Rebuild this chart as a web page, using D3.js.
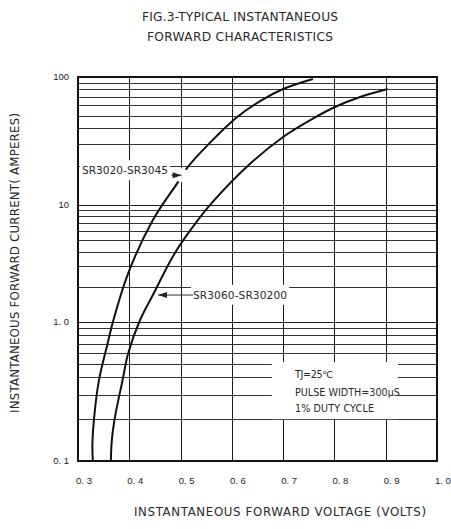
<!DOCTYPE html>
<meta charset="utf-8">
<style>
  body { margin: 0; background: #fff; }
  .title, .axis-title, .note, .curve-label { font-family: "DejaVu Sans", sans-serif; fill: #2a2a2a; }
  .title { font-size: 12.2px; text-anchor: middle; }
  .axis-title { font-size: 11.8px; text-anchor: middle; }
  .tick-label { font-family: "Liberation Sans", Arial, sans-serif; font-size: 9.5px; fill: #222; }
  .grid line { stroke: #1a1a1a; stroke-width: 1; shape-rendering: crispEdges; }
  .grid line.minor { stroke: #333; }
  .frame { fill: none; stroke: #111; stroke-width: 1.2; shape-rendering: crispEdges; }
  .curve { fill: none; stroke: #111; stroke-width: 2; }
  .curve-label { font-size: 10.6px; }
  .note { font-size: 9.6px; }
  .arrow { stroke: #333; stroke-width: 1; }
</style>
<body>
<div id="vis"></div>
<script src="https://cdn.jsdelivr.net/npm/d3@7"></script>
<script>

// voltage (V) / current (A)
const lowVfV = [0.329, 0.328, 0.331, 0.341, 0.357, 0.368, 0.398, 0.446, 0.495, 0.514, 0.608, 0.655, 0.700, 0.758];
const lowVfI = [0.1, 0.126, 0.197, 0.383, 0.684, 1.0, 2.62, 7.45, 15.1, 19.8, 47.8, 64.9, 80.6, 96.5];
const highVfV = [0.364, 0.366, 0.371, 0.387, 0.398, 0.421, 0.446, 0.489, 0.534, 0.561, 0.635, 0.700, 0.760, 0.801, 0.850, 0.904];
const highVfI = [0.1, 0.142, 0.197, 0.383, 0.598, 1.04, 1.70, 3.89, 7.45, 10.4, 20.9, 34.0, 47.8, 58.3, 69.8, 80.6];

const xTicks = [0.3, 0.4, 0.5, 0.6, 0.7, 0.8, 0.9, 1.0];
const xTickLabels = ['0. 3', '0. 4', '0. 5', '0. 6', '0. 7', '0. 8', '0. 9', '1. 0'];
const yDecades = [0.1, 1, 10, 100];
const yTickLabels = ['0. 1', '1. 0', '10', '100'];

const noteLines = ['TJ=25\u2103', 'PULSE WIDTH=300\u00b5S', '1% DUTY CYCLE'];

const width = 451,
    height = 529;
let margin = {l: 78, r: 14, t: 77, b: 68};
let w = width - margin.l - margin.r;
let h = height - margin.t - margin.b;

let x = d3.scaleLinear().domain([0.3, 1.0]).range([0, w]);
// decades on the sheet are not quite equal, so piecewise log
let y = d3.scaleLog().domain(yDecades).range([h, h - 139, h - 256, 0]);

let svg = d3.select('#vis').append('svg')
    .attr('width', width)
    .attr('height', height);

// stretch text to the width it takes on the sheet (the original face is wider)
const fit = (sel, len) => sel.attr('textLength', len).attr('lengthAdjust', 'spacing');

fit(svg.append('text').attr('class', 'title')
    .attr('x', 240).attr('y', 21)
    .text('FIG.3-TYPICAL INSTANTANEOUS'), 196);
fit(svg.append('text').attr('class', 'title')
    .attr('x', 240).attr('y', 41)
    .text('FORWARD CHARACTERISTICS'), 186);

let g = svg.append('g')
    .attr('transform', 'translate(' + [margin.l, margin.t] + ')');

// grid
let grid = g.append('g').attr('class', 'grid');
let minorY = y.ticks().filter(d => d > 0.1 && d < 100);
grid.selectAll('.hline')
    .data(minorY)
    .enter().append('line')
    .attr('class', d => yDecades.indexOf(+d.toPrecision(3)) >= 0 ? 'hline' : 'hline minor')
    .attr('x1', 0).attr('x2', w)
    .attr('y1', d => Math.round(y(d)) + 0.5)
    .attr('y2', d => Math.round(y(d)) + 0.5);
grid.selectAll('.vline')
    .data(xTicks.slice(1, -1))
    .enter().append('line')
    .attr('class', 'vline')
    .attr('y1', 0).attr('y2', h)
    .attr('x1', d => Math.round(x(d)) + 0.5)
    .attr('x2', d => Math.round(x(d)) + 0.5);

g.append('rect').attr('class', 'frame')
    .attr('width', w).attr('height', h);

// tick labels
g.selectAll('.xlab')
    .data(xTicks)
    .enter().append('text')
    .attr('class', 'tick-label')
    .attr('x', d => x(d) + 6)
    .attr('y', h + 23)
    .style('text-anchor', 'middle')
    .text((d, i) => xTickLabels[i]);
g.selectAll('.ylab')
    .data(yDecades)
    .enter().append('text')
    .attr('class', 'tick-label')
    .attr('x', -9)
    .attr('y', d => y(d))
    .attr('dy', '0.35em')
    .style('text-anchor', 'end')
    .text((d, i) => yTickLabels[i]);

// axis titles
fit(svg.append('text').attr('class', 'axis-title')
    .attr('transform', 'translate(19,263) rotate(-90)')
    .text('INSTANTANEOUS FORWARD CURRENT( AMPERES)'), 300);
fit(svg.append('text').attr('class', 'axis-title')
    .attr('x', 280).attr('y', 516)
    .text('INSTANTANEOUS FORWARD VOLTAGE (VOLTS)'), 292);

// curves
let line = d3.line()
    .x(d => x(d[0]))
    .y(d => y(d[1]))
    .curve(d3.curveCatmullRom.alpha(0.5));
let curves = [d3.zip(lowVfV, lowVfI), d3.zip(highVfV, highVfI)];
g.selectAll('.curve')
    .data(curves)
    .enter().append('path')
    .attr('class', 'curve')
    .attr('d', line);

// labels with arrows, placed in data units
const addLabel = (text, len, tx, ty, ax0, ax1, ay, gapCurve) => {
  let lg = g.append('g');
  let bg = lg.append('rect').style('fill', '#fff');
  let t = fit(lg.append('text').attr('class', 'curve-label')
      .attr('x', x(tx)).attr('y', y(ty)).attr('dy', '0.35em')
      .text(text), len);
  let bb = t.node().getBBox();
  bg.attr('x', bb.x - 2).attr('y', bb.y - 4)
    .attr('width', bb.width + 4).attr('height', bb.height + 8);
  if(gapCurve) {
    lg.append('circle').attr('cx', x(ax1)).attr('cy', y(ay)).attr('r', 7).style('fill', '#fff');
  }
  let xa = x(ax0), xb = x(ax1), ya = y(ay);
  lg.append('line').attr('class', 'arrow')
      .attr('x1', xa).attr('x2', xb).attr('y1', ya).attr('y2', ya);
  let dir = xb > xa ? -1 : 1;
  lg.append('path')
      .style('fill', '#222')
      .attr('d', 'M' + xb + ',' + ya + ' l' + (dir * 9) + ',-3 l0,6 z');
};

addLabel('SR3020-SR3045', 86, 0.3078, 18.6, 0.4820, 0.5020, 17.1, true);
addLabel('SR3060-SR30200', 94, 0.5242, 1.70, 0.5242, 0.4560, 1.70, false);

// conditions box
let nb = g.append('g');
nb.append('rect').style('fill', '#fff')
    .attr('x', x(0.678)).attr('y', y(0.515))
    .attr('width', x(0.9238) - x(0.678))
    .attr('height', y(0.2) - y(0.515));
let noteY = [0.417, 0.309, 0.240];
let noteLen = [38, 105, 79];
nb.selectAll('.note')
    .data(noteLines)
    .enter().append('text')
    .attr('class', 'note')
    .attr('x', x(0.723))
    .attr('y', (d, i) => y(noteY[i]))
    .attr('dy', '0.35em')
    .attr('textLength', (d, i) => noteLen[i])
    .attr('lengthAdjust', 'spacing')
    .text(d => d);

</script>
</body>
